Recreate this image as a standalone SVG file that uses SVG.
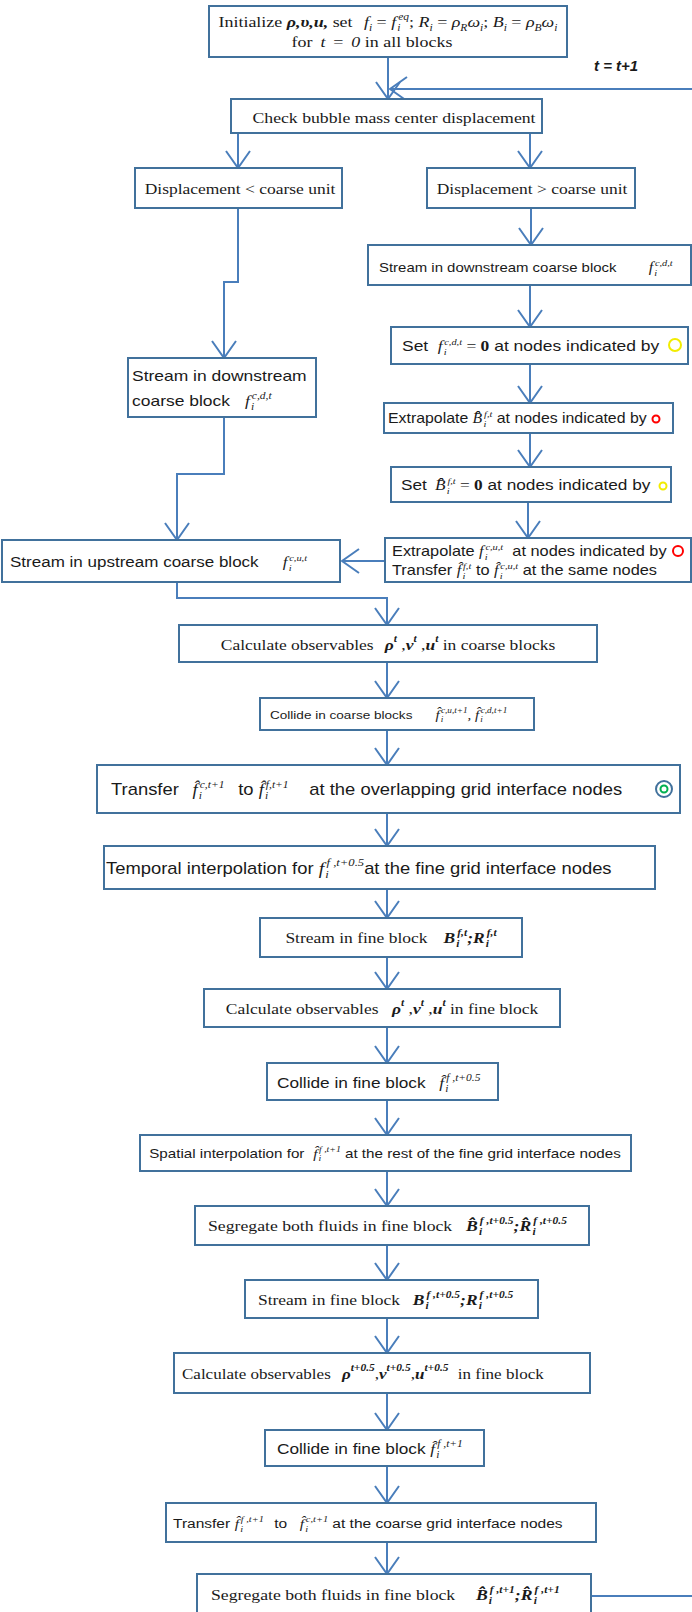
<svg xmlns="http://www.w3.org/2000/svg" width="692" height="1612" viewBox="0 0 692 1612">
<style>
.bx{fill:#fff;stroke:#41719C;stroke-width:2}
.cn{fill:none;stroke:#4A7EBB;stroke-width:2}
.sr{font-family:"Liberation Serif","Times New Roman",serif;fill:#1a1a1a}
.ss{font-family:"Liberation Sans",Arial,sans-serif;fill:#1a1a1a}
.mi{font-family:"Liberation Serif","Times New Roman",serif;font-style:italic}
.mb{font-family:"Liberation Serif","Times New Roman",serif;font-style:italic;font-weight:bold}
.lp{font-family:"Liberation Sans",Arial,sans-serif;font-style:italic;font-weight:bold;font-size:15px;fill:#1a1a1a}
</style>
<defs>
<marker id="ah" viewBox="0 0 19 26" refX="18" refY="13" markerWidth="19" markerHeight="26" markerUnits="userSpaceOnUse" orient="auto"><path d="M1,1 L18,13 L1,25" fill="none" stroke="#4A7EBB" stroke-width="2"/></marker>
</defs>
<g id="connectors">
<path class="cn" d="M388,57 V99" marker-end="url(#ah)"/>
<path class="cn" d="M591,1596 H700 V89 H390" marker-end="url(#ah)"/>
<path class="cn" d="M238,133 V168" marker-end="url(#ah)"/>
<path class="cn" d="M530,133 V168" marker-end="url(#ah)"/>
<path class="cn" d="M531,208 V245" marker-end="url(#ah)"/>
<path class="cn" d="M530,285 V327" marker-end="url(#ah)"/>
<path class="cn" d="M530,364 V403" marker-end="url(#ah)"/>
<path class="cn" d="M530,433 V467" marker-end="url(#ah)"/>
<path class="cn" d="M528,502 V538" marker-end="url(#ah)"/>
<path class="cn" d="M385,561 H342" marker-end="url(#ah)"/>
<path class="cn" d="M238,208 V282 H224 V358" marker-end="url(#ah)"/>
<path class="cn" d="M224,417 V474 H177 V540" marker-end="url(#ah)"/>
<path class="cn" d="M177,582 V598 H387 V625" marker-end="url(#ah)"/>
<path class="cn" d="M387,662 V698" marker-end="url(#ah)"/>
<path class="cn" d="M387,730 V765" marker-end="url(#ah)"/>
<path class="cn" d="M387,813 V846" marker-end="url(#ah)"/>
<path class="cn" d="M387,889 V918" marker-end="url(#ah)"/>
<path class="cn" d="M387,957 V989" marker-end="url(#ah)"/>
<path class="cn" d="M387,1027 V1063" marker-end="url(#ah)"/>
<path class="cn" d="M387,1100 V1135" marker-end="url(#ah)"/>
<path class="cn" d="M387,1171 V1206" marker-end="url(#ah)"/>
<path class="cn" d="M387,1245 V1280" marker-end="url(#ah)"/>
<path class="cn" d="M387,1318 V1353" marker-end="url(#ah)"/>
<path class="cn" d="M387,1393 V1430" marker-end="url(#ah)"/>
<path class="cn" d="M387,1466 V1503" marker-end="url(#ah)"/>
<path class="cn" d="M387,1542 V1574" marker-end="url(#ah)"/>
</g>
<text class="lp" x="594" y="71">t = t+1</text>

<g id="n1"><rect class="bx" x="209" y="6" width="358" height="51"/>
<text class="sr" font-size="15.6" transform="translate(388,27) scale(1.15,1)" text-anchor="middle">Initialize <tspan class="mb">ρ,υ,u,</tspan> set <tspan dx="6" class="mi">f</tspan><tspan class="mi" font-size="10" dy="4">i</tspan><tspan dy="-4"> = </tspan><tspan class="mi">f</tspan><tspan class="mi" font-size="10" dx="1" dy="4">i</tspan><tspan class="mi" font-size="10" dx="-2" dy="-11">eq</tspan><tspan dy="7">; </tspan><tspan class="mi">R</tspan><tspan class="mi" font-size="10" dy="4">i</tspan><tspan dy="-4"> = </tspan><tspan class="mi">ρ</tspan><tspan class="mi" font-size="10" dy="4">R</tspan><tspan class="mi" dy="-4">ω</tspan><tspan class="mi" font-size="10" dy="4">i</tspan><tspan dy="-4">; </tspan><tspan class="mi">B</tspan><tspan class="mi" font-size="10" dy="4">i</tspan><tspan dy="-4"> = </tspan><tspan class="mi">ρ</tspan><tspan class="mi" font-size="10" dy="4">B</tspan><tspan class="mi" dy="-4">ω</tspan><tspan class="mi" font-size="10" dy="4">i</tspan></text>
<text class="sr" font-size="15.6" transform="translate(372,47) scale(1.15,1)" text-anchor="middle">for <tspan class="mi" dx="3">t</tspan><tspan dx="3"> = </tspan><tspan class="mi" dx="3">0</tspan> in all blocks</text></g>

<g id="n2"><rect class="bx" x="231" y="99" width="311" height="34"/>
<text class="sr" font-size="15.4" transform="translate(394,123) scale(1.15,1)" text-anchor="middle">Check bubble mass center displacement</text></g>

<g id="n3"><rect class="bx" x="135" y="168" width="207" height="40"/>
<text class="sr" font-size="15.2" transform="translate(240,194) scale(1.15,1)" text-anchor="middle">Displacement &lt; coarse unit</text></g>

<g id="n4"><rect class="bx" x="427" y="168" width="208" height="40"/>
<text class="sr" font-size="15.2" transform="translate(532,194) scale(1.15,1)" text-anchor="middle">Displacement &gt; coarse unit</text></g>

<g id="n5"><rect class="bx" x="368" y="245" width="323" height="40"/>
<text class="ss" font-size="13" transform="translate(379,272) scale(1.15,1)">Stream in downstream coarse block<tspan dx="28" class="mi" font-size="14">f</tspan><tspan class="mi" font-size="9" dx="1" dy="4">i</tspan><tspan class="mi" font-size="9" dx="-2" dy="-10">c,d,t</tspan></text></g>

<g id="n6"><rect class="bx" x="391" y="327" width="297" height="37"/>
<text class="ss" font-size="15.2" transform="translate(402,351) scale(1.15,1)">Set <tspan class="mi" dx="4">f</tspan><tspan class="mi" font-size="9" dx="1" dy="4">i</tspan><tspan class="mi" font-size="9" dx="-2" dy="-10">c,d,t</tspan><tspan class="sr" dy="6"> = <tspan font-weight="bold">0</tspan></tspan> at nodes indicated by</text>
<circle cx="675" cy="345" r="6" fill="none" stroke="#F2EC00" stroke-width="2"/></g>

<g id="n7"><rect class="bx" x="384" y="403" width="289" height="30"/>
<text class="ss" font-size="13.8" transform="translate(388,423) scale(1.15,1)">Extrapolate <tspan class="mi">B&#x302;&#x302;</tspan><tspan class="mi" font-size="9" dx="1" dy="4">i</tspan><tspan class="mi" font-size="9" dx="-2" dy="-10">f,t</tspan><tspan dy="6"> at nodes indicated by</tspan></text>
<circle cx="656" cy="419" r="3.5" fill="none" stroke="#FF0000" stroke-width="2"/></g>

<g id="n8"><rect class="bx" x="391" y="467" width="280" height="35"/>
<text class="ss" font-size="15" transform="translate(401,490) scale(1.15,1)">Set <tspan class="mi" dx="3">B&#x302;&#x302;</tspan><tspan class="mi" font-size="9" dx="1" dy="4">i</tspan><tspan class="mi" font-size="9" dx="-2" dy="-10">f,t</tspan><tspan class="sr" dy="6"> = <tspan font-weight="bold">0</tspan></tspan>  at nodes indicated by</text>
<circle cx="663" cy="486" r="3.5" fill="none" stroke="#F2EC00" stroke-width="2"/></g>

<g id="n9"><rect class="bx" x="385" y="538" width="306" height="44"/>
<text class="ss" font-size="14.2" transform="translate(392,556) scale(1.15,1)">Extrapolate <tspan class="mi">f</tspan><tspan class="mi" font-size="9" dx="1" dy="4">i</tspan><tspan class="mi" font-size="9" dx="-2" dy="-10">c,u,t</tspan><tspan dy="6" dx="4"> at nodes indicated by</tspan></text>
<circle cx="678" cy="551" r="5" fill="none" stroke="#FF0000" stroke-width="2"/>
<text class="ss" font-size="14.2" transform="translate(392,575) scale(1.15,1)">Transfer <tspan class="mi">f&#x302;</tspan><tspan class="mi" font-size="9" dx="1" dy="4">i</tspan><tspan class="mi" font-size="9" dx="-2" dy="-10">f,t</tspan><tspan dy="6" dx="4">to </tspan><tspan class="mi">f&#x302;</tspan><tspan class="mi" font-size="9" dx="1" dy="4">i</tspan><tspan class="mi" font-size="9" dx="-2" dy="-10">c,u,t</tspan><tspan dy="6"> at the same nodes</tspan></text></g>

<g id="n10"><rect class="bx" x="2" y="540" width="338" height="42"/>
<text class="ss" font-size="14.8" transform="translate(10,567) scale(1.15,1)">Stream in upstream coarse block<tspan dx="21" class="mi">f</tspan><tspan class="mi" font-size="9" dx="1" dy="4">i</tspan><tspan class="mi" font-size="9" dx="-2" dy="-10">c,u,t</tspan></text></g>

<g id="n11"><rect class="bx" x="128" y="358" width="188" height="59"/>
<text class="ss" font-size="15.2" transform="translate(132,381) scale(1.15,1)">Stream in downstream</text>
<text class="ss" font-size="15.2" transform="translate(132,406) scale(1.15,1)">coarse block<tspan dx="13" class="mi">f</tspan><tspan class="mi" font-size="10" dx="1" dy="4">i</tspan><tspan class="mi" font-size="10" dx="-2" dy="-11">c,d,t</tspan></text></g>

<g id="n12"><rect class="bx" x="179" y="625" width="418" height="37"/>
<text class="sr" font-size="15.2" transform="translate(388,650) scale(1.15,1)" text-anchor="middle">Calculate observables <tspan dx="6" class="mb">ρ</tspan><tspan class="mb" font-size="10" dy="-8">t</tspan><tspan dy="8"> ,</tspan><tspan class="mb">ν</tspan><tspan class="mb" font-size="10" dy="-8">t</tspan><tspan dy="8"> ,</tspan><tspan class="mb">u</tspan><tspan class="mb" font-size="10" dy="-8">t</tspan><tspan dy="8"> in coarse blocks</tspan></text></g>

<g id="n13"><rect class="bx" x="260" y="698" width="274" height="32"/>
<text class="ss" font-size="11.8" transform="translate(270,719) scale(1.15,1)">Collide in coarse blocks<tspan dx="20" class="mi" font-size="13">f&#x302;</tspan><tspan class="mi" font-size="8" dx="1" dy="3">i</tspan><tspan class="mi" font-size="8" dx="-2" dy="-9">c,u,t+1</tspan><tspan class="mi" font-size="13" dy="6">, f&#x302;</tspan><tspan class="mi" font-size="8" dx="1" dy="3">i</tspan><tspan class="mi" font-size="8" dx="-2" dy="-9">c,d,t+1</tspan></text></g>

<g id="n14"><rect class="bx" x="97" y="765" width="583" height="48"/>
<text class="ss" font-size="16" transform="translate(111,795) scale(1.15,1)">Transfer<tspan dx="12" class="mi">f&#x302;</tspan><tspan class="mi" font-size="10" dx="1" dy="4">i</tspan><tspan class="mi" font-size="10" dx="-2" dy="-11">c,t+1</tspan><tspan dy="7" dx="12">to </tspan><tspan class="mi">f&#x302;</tspan><tspan class="mi" font-size="10" dx="1" dy="4">i</tspan><tspan class="mi" font-size="10" dx="-2" dy="-11">f,t+1</tspan><tspan dy="7" dx="18">at the overlapping grid interface nodes</tspan></text>
<circle cx="664" cy="789" r="8" fill="none" stroke="#41719C" stroke-width="2"/>
<circle cx="664" cy="789" r="3.5" fill="none" stroke="#00B050" stroke-width="2"/></g>

<g id="n15"><rect class="bx" x="104" y="846" width="551" height="43"/>
<text class="ss" font-size="16" transform="translate(106,874) scale(1.15,1)">Temporal interpolation  for <tspan class="mi" font-size="17">f</tspan><tspan class="mi" font-size="11" dx="1" dy="4">i</tspan><tspan class="mi" font-size="11" dx="-2" dy="-12">f ,t+0.5</tspan><tspan dy="8">at the fine grid interface nodes</tspan></text></g>

<g id="n16"><rect class="bx" x="260" y="918" width="262" height="39"/>
<text class="sr" font-size="15.2" transform="translate(391,943) scale(1.15,1)" text-anchor="middle">Stream  in fine block<tspan dx="14" class="mb">B</tspan><tspan class="mb" font-size="10" dx="1" dy="4">i</tspan><tspan class="mb" font-size="10" dx="-2" dy="-11">f,t</tspan><tspan class="mb" dy="7">;</tspan><tspan class="mb">R</tspan><tspan class="mb" font-size="10" dx="1" dy="4">i</tspan><tspan class="mb" font-size="10" dx="-2" dy="-11">f,t</tspan></text></g>

<g id="n17"><rect class="bx" x="204" y="989" width="356" height="38"/>
<text class="sr" font-size="15.2" transform="translate(382,1014) scale(1.15,1)" text-anchor="middle">Calculate observables <tspan dx="8" class="mb">ρ</tspan><tspan class="mb" font-size="10" dy="-8">t</tspan><tspan dy="8"> ,</tspan><tspan class="mb">ν</tspan><tspan class="mb" font-size="10" dy="-8">t</tspan><tspan dy="8"> ,</tspan><tspan class="mb">u</tspan><tspan class="mb" font-size="10" dy="-8">t</tspan><tspan dy="8"> in fine  block</tspan></text></g>

<g id="n18"><rect class="bx" x="267" y="1063" width="231" height="37"/>
<text class="ss" font-size="15" transform="translate(277,1088) scale(1.15,1)">Collide in fine block<tspan dx="12" class="mi">f&#x302;</tspan><tspan class="mi" font-size="10" dx="1" dy="4">i</tspan><tspan class="mi" font-size="10" dx="-2" dy="-11">f ,t+0.5</tspan></text></g>

<g id="n19"><rect class="bx" x="140" y="1135" width="491" height="36"/>
<text class="ss" font-size="13.2" transform="translate(385,1158) scale(1.15,1)" text-anchor="middle">Spatial interpolation  for <tspan dx="4" class="mi">f&#x302;</tspan><tspan class="mi" font-size="8.5" dx="1" dy="3">i</tspan><tspan class="mi" font-size="8.5" dx="-2" dy="-9">f ,t+1</tspan><tspan dy="6"> at the rest of the fine grid interface nodes</tspan></text></g>

<g id="n20"><rect class="bx" x="195" y="1206" width="394" height="39"/>
<text class="sr" font-size="15.4" transform="translate(208,1231) scale(1.15,1)">Segregate both fluids in fine block<tspan dx="12" class="mb">B&#x302;&#x302;</tspan><tspan class="mb" font-size="10" dx="1" dy="4">i</tspan><tspan class="mb" font-size="10" dx="-2" dy="-11">f ,t+0.5</tspan><tspan class="mb" dy="7">;</tspan><tspan class="mb">R&#x302;&#x302;</tspan><tspan class="mb" font-size="10" dx="1" dy="4">i</tspan><tspan class="mb" font-size="10" dx="-2" dy="-11">f ,t+0.5</tspan></text></g>

<g id="n21"><rect class="bx" x="245" y="1280" width="293" height="38"/>
<text class="sr" font-size="15.2" transform="translate(258,1305) scale(1.15,1)">Stream  in fine block<tspan dx="11" class="mb">B</tspan><tspan class="mb" font-size="10" dx="1" dy="4">i</tspan><tspan class="mb" font-size="10" dx="-2" dy="-11">f ,t+0.5</tspan><tspan class="mb" dy="7">;</tspan><tspan class="mb">R</tspan><tspan class="mb" font-size="10" dx="1" dy="4">i</tspan><tspan class="mb" font-size="10" dx="-2" dy="-11">f ,t+0.5</tspan></text></g>

<g id="n22"><rect class="bx" x="174" y="1353" width="416" height="40"/>
<text class="sr" font-size="14.8" transform="translate(182,1379) scale(1.15,1)">Calculate observables <tspan dx="6" class="mb">ρ</tspan><tspan class="mb" font-size="10" dy="-8">t+0.5</tspan><tspan dy="8">,</tspan><tspan class="mb">ν</tspan><tspan class="mb" font-size="10" dy="-8">t+0.5</tspan><tspan dy="8">,</tspan><tspan class="mb">u</tspan><tspan class="mb" font-size="10" dy="-8">t+0.5</tspan><tspan dy="8" dx="8">in fine  block</tspan></text></g>

<g id="n23"><rect class="bx" x="265" y="1430" width="219" height="36"/>
<text class="ss" font-size="15" transform="translate(277,1454) scale(1.15,1)">Collide in fine block <tspan class="mi">f&#x302;</tspan><tspan class="mi" font-size="10" dx="1" dy="4">i</tspan><tspan class="mi" font-size="10" dx="-2" dy="-11">f ,t+1</tspan></text></g>

<g id="n24"><rect class="bx" x="166" y="1503" width="430" height="39"/>
<text class="ss" font-size="13.5" transform="translate(173,1528) scale(1.15,1)">Transfer<tspan dx="4" class="mi">f&#x302;</tspan><tspan class="mi" font-size="9" dx="1" dy="4">i</tspan><tspan class="mi" font-size="9" dx="-2" dy="-10">f ,t+1</tspan><tspan dy="6" dx="9">to</tspan><tspan dx="11" class="mi">f&#x302;</tspan><tspan class="mi" font-size="9" dx="1" dy="4">i</tspan><tspan class="mi" font-size="9" dx="-2" dy="-10">c,t+1</tspan><tspan dy="6"> at the coarse grid interface nodes</tspan></text></g>

<g id="n25"><rect class="bx" x="197" y="1574" width="394" height="46"/>
<text class="sr" font-size="15.4" transform="translate(211,1600) scale(1.15,1)">Segregate both fluids in fine block<tspan dx="18" class="mb">B&#x302;&#x302;</tspan><tspan class="mb" font-size="10" dx="1" dy="4">i</tspan><tspan class="mb" font-size="10" dx="-2" dy="-11">f ,t+1</tspan><tspan class="mb" dy="7">;</tspan><tspan class="mb">R&#x302;&#x302;</tspan><tspan class="mb" font-size="10" dx="1" dy="4">i</tspan><tspan class="mb" font-size="10" dx="-2" dy="-11">f ,t+1</tspan></text></g>
</svg>
